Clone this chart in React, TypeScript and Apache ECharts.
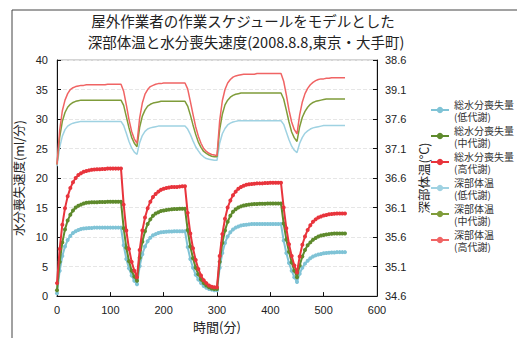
import React, { useEffect, useRef } from "react";
import * as echarts from "echarts";

const titleLines = [
  "屋外作業者の作業スケジュールをモデルとした",
  "深部体温と水分喪失速度(2008.8.8,東京・大手町)",
];

const times = [
  0, 5, 10, 15, 20, 25, 30, 35, 40, 45, 50, 55, 60, 65, 70, 75, 80, 85, 90, 95, 100, 105, 110, 115, 120,
  125, 130, 135, 140, 145, 150,
  155, 160, 165, 170, 175, 180, 185, 190, 195, 200, 205, 210, 215, 220, 225, 230, 235, 240,
  245, 250, 255, 260, 265, 270, 275, 280, 285, 290, 295, 300,
  305, 310, 315, 320, 325, 330, 335, 340, 345, 350, 355, 360, 365, 370, 375, 380, 385, 390, 395, 400, 405, 410, 415, 420,
  425, 430, 435, 440, 445, 450,
  455, 460, 465, 470, 475, 480, 485, 490, 495, 500, 505, 510, 515, 520, 525, 530, 535, 540,
];

// 総水分喪失量 (ml/分)
const lossLow = [
  0.5, 4.3, 6.8, 8.4, 9.5, 10.2, 10.7, 11.0, 11.2, 11.35, 11.45, 11.5, 11.55, 11.55, 11.6, 11.6, 11.6, 11.6, 11.6, 11.6, 11.6, 11.6, 11.6, 11.6, 11.6,
  8.6, 6.3, 4.7, 3.5, 2.6, 2.0,
  5.1, 7.1, 8.4, 9.3, 9.9, 10.3, 10.5, 10.7, 10.8, 10.85, 10.9, 10.95, 10.95, 11.0, 11.0, 11.0, 11.0, 11.0,
  8.3, 6.3, 4.8, 3.6, 2.8, 2.2, 1.7, 1.4, 1.2, 1.1, 1.0, 1.0,
  4.8, 7.3, 9.0, 10.1, 10.8, 11.3, 11.6, 11.8, 11.95, 12.05, 12.1, 12.15, 12.2, 12.2, 12.2, 12.2, 12.2, 12.2, 12.2, 12.2, 12.2, 12.2, 12.2, 12.2,
  9.4, 7.3, 5.6, 4.3, 3.2, 2.4,
  3.8, 4.8, 5.5, 6.0, 6.4, 6.7, 6.9, 7.05, 7.15, 7.25, 7.3, 7.35, 7.4, 7.4, 7.45, 7.45, 7.45, 7.45,
];
const lossMid = [
  1.0, 5.8, 9.1, 11.3, 12.8, 13.8, 14.5, 15.0, 15.3, 15.5, 15.7, 15.8, 15.85, 15.9, 15.9, 15.9, 15.95, 15.95, 15.95, 16.0, 16.0, 16.0, 16.0, 16.0, 16.0,
  11.5, 8.2, 5.9, 4.3, 3.3, 2.6,
  6.5, 9.2, 11.0, 12.2, 13.0, 13.6, 14.0, 14.2, 14.4, 14.5, 14.6, 14.65, 14.7, 14.75, 14.75, 14.8, 14.8, 14.8,
  11.2, 8.4, 6.4, 4.8, 3.7, 2.8, 2.2, 1.8, 1.5, 1.3, 1.2, 1.2,
  5.8, 9.0, 11.1, 12.6, 13.6, 14.3, 14.7, 15.0, 15.2, 15.35, 15.45, 15.5, 15.55, 15.6, 15.6, 15.65, 15.65, 15.65, 15.7, 15.7, 15.7, 15.7, 15.7, 15.7,
  12.3, 9.6, 7.5, 5.7, 4.3, 3.2,
  5.2, 6.7, 7.8, 8.6, 9.1, 9.55, 9.85, 10.1, 10.25, 10.35, 10.45, 10.5, 10.55, 10.6, 10.6, 10.6, 10.6, 10.6,
];
const lossHigh = [
  2.2, 8.0, 12.1, 14.9, 16.9, 18.3, 19.3, 20.0, 20.5, 20.8, 21.05, 21.2, 21.3, 21.4, 21.45, 21.5, 21.5, 21.55, 21.55, 21.6, 21.6, 21.6, 21.6, 21.6, 21.6,
  15.5, 11.1, 8.0, 5.8, 4.3, 3.2,
  7.8, 11.1, 13.3, 14.9, 16.0, 16.8, 17.3, 17.7, 18.0, 18.2, 18.3, 18.4, 18.5, 18.5, 18.5, 18.55, 18.6, 18.6,
  14.1, 10.6, 8.1, 6.1, 4.6, 3.5, 2.7, 2.2, 1.8, 1.6, 1.5, 1.5,
  6.8, 10.5, 13.1, 15.0, 16.2, 17.1, 17.7, 18.2, 18.5, 18.7, 18.85, 18.95, 19.0, 19.05, 19.1, 19.1, 19.1, 19.15, 19.15, 19.2, 19.2, 19.2, 19.2, 19.2,
  15.0, 11.5, 8.8, 6.8, 5.2, 4.0,
  6.7, 8.7, 10.1, 11.2, 12.0, 12.6, 13.0, 13.3, 13.5, 13.65, 13.75, 13.85, 13.9, 13.95, 14.0, 14.0, 14.0, 14.0,
];

// 深部体温 (°C)
const tempLow = [
  36.8, 37.12, 37.31, 37.42, 37.48, 37.51, 37.53, 37.54, 37.55, 37.56, 37.56, 37.56, 37.56, 37.56, 37.56, 37.56, 37.56, 37.56, 37.56, 37.56, 37.56, 37.56, 37.56, 37.56, 37.56,
  37.49, 37.36, 37.22, 37.11, 37.04, 37.0,
  37.2, 37.32, 37.39, 37.43, 37.45, 37.46, 37.47, 37.48, 37.48, 37.48, 37.48, 37.48, 37.48, 37.48, 37.48, 37.48, 37.48, 37.48,
  37.43, 37.34, 37.23, 37.13, 37.06, 37.0, 36.96, 36.93, 36.92, 36.91, 36.9, 36.9,
  37.19, 37.35, 37.44, 37.5, 37.53, 37.55, 37.56, 37.57, 37.57, 37.57, 37.57, 37.57, 37.57, 37.57, 37.57, 37.57, 37.57, 37.57, 37.57, 37.57, 37.57, 37.57, 37.57, 37.57,
  37.51, 37.38, 37.25, 37.14, 37.07, 37.03,
  37.19, 37.29, 37.36, 37.4, 37.43, 37.45, 37.46, 37.47, 37.48, 37.49, 37.49, 37.49, 37.49, 37.49, 37.49, 37.49, 37.49, 37.49,
];
const tempMid = [
  36.83, 37.29, 37.56, 37.71, 37.8, 37.85, 37.88, 37.9, 37.91, 37.92, 37.92, 37.92, 37.92, 37.92, 37.92, 37.92, 37.92, 37.92, 37.92, 37.92, 37.92, 37.92, 37.92, 37.92, 37.92,
  37.83, 37.64, 37.45, 37.29, 37.19, 37.13,
  37.46, 37.65, 37.75, 37.82, 37.85, 37.87, 37.88, 37.89, 37.9, 37.9, 37.9, 37.9, 37.9, 37.9, 37.9, 37.9, 37.9, 37.9,
  37.82, 37.67, 37.5, 37.34, 37.21, 37.12, 37.05, 37.02, 36.99, 36.97, 36.96, 36.96,
  37.42, 37.68, 37.84, 37.92, 37.97, 38.0, 38.02, 38.03, 38.04, 38.04, 38.04, 38.04, 38.04, 38.04, 38.04, 38.04, 38.04, 38.04, 38.04, 38.04, 38.04, 38.04, 38.04, 38.04,
  37.94, 37.75, 37.55, 37.38, 37.28, 37.22,
  37.47, 37.63, 37.73, 37.8, 37.85, 37.88, 37.9, 37.91, 37.92, 37.93, 37.94, 37.94, 37.94, 37.94, 37.94, 37.94, 37.94, 37.94,
];
const tempHigh = [
  36.83, 37.41, 37.74, 37.92, 38.03, 38.1, 38.13, 38.15, 38.16, 38.17, 38.17, 38.18, 38.18, 38.18, 38.18, 38.18, 38.18, 38.18, 38.18, 38.19, 38.19, 38.19, 38.19, 38.19, 38.19,
  38.07, 37.84, 37.59, 37.39, 37.26, 37.19,
  37.62, 37.87, 38.02, 38.1, 38.15, 38.17, 38.19, 38.2, 38.2, 38.21, 38.21, 38.21, 38.21, 38.21, 38.21, 38.21, 38.21, 38.21,
  38.11, 37.9, 37.68, 37.47, 37.31, 37.19, 37.1, 37.05, 37.02, 37.0, 36.99, 36.98,
  37.57, 37.91, 38.1, 38.21, 38.27, 38.31, 38.33, 38.34, 38.35, 38.36, 38.36, 38.36, 38.36, 38.36, 38.37, 38.37, 38.37, 38.37, 38.37, 38.37, 38.37, 38.37, 38.37, 38.37,
  38.24, 38.01, 37.75, 37.55, 37.42, 37.35,
  37.67, 37.89, 38.03, 38.12, 38.18, 38.22, 38.25, 38.27, 38.28, 38.28, 38.29, 38.29, 38.3, 38.3, 38.3, 38.3, 38.3, 38.3,
];

const seriesNames = [
  "総水分喪失量\n(低代謝)",
  "総水分喪失量\n(中代謝)",
  "総水分喪失量\n(高代謝)",
  "深部体温\n(低代謝)",
  "深部体温\n(中代謝)",
  "深部体温\n(高代謝)",
];

const rightTickValues = [34.6, 35.1, 35.6, 36.1, 36.6, 37.1, 37.6, 38.1, 38.6];
const rightTickLabels = ["34.6", "35.1", "35.6", "36.1", "36.6", "37.1", "37.6", "39.1", "38.6"];

const pairs = (vals: number[]) => vals.map((v, i) => [times[i], v]);

const CJK = "'Noto Sans CJK JP', sans-serif";
const NUM = "'Liberation Sans', Arial, sans-serif";

export default function App() {
  const ref = useRef<HTMLDivElement>(null);
  useEffect(() => {
    document.body.style.margin = "0";
    if (!ref.current) return;
    const chart = echarts.init(ref.current, undefined, { renderer: "svg" });
    const lossColors = ["#7fc3d6", "#5e8a2c", "#e8343c"];
    const tempColors = ["#9fd2e2", "#7f9c3a", "#f06464"];
    const lossData = [lossLow, lossMid, lossHigh];
    const tempData = [tempLow, tempMid, tempHigh];
    const series: any[] = [];
    lossData.forEach((d, i) => {
      series.push({
        name: seriesNames[i],
        type: "line",
        yAxisIndex: 0,
        data: pairs(d),
        symbol: "circle",
        symbolSize: 4,
        showSymbol: true,
        itemStyle: { color: lossColors[i] },
        lineStyle: { color: lossColors[i], width: 2 },
        z: 3 + i,
      });
    });
    tempData.forEach((d, i) => {
      series.push({
        name: seriesNames[3 + i],
        type: "line",
        yAxisIndex: 1,
        data: pairs(d),
        symbol: "none",
        showSymbol: false,
        itemStyle: { color: tempColors[i] },
        lineStyle: { color: tempColors[i], width: 1.5 },
        z: 2 + i,
      });
    });
    chart.setOption({
      animation: false,
      backgroundColor: "#ffffff",
      graphic: [
        { type: "line", shape: { x1: 12, y1: 10, x2: 517, y2: 10 }, style: { stroke: "#444", lineWidth: 1 } },
        { type: "line", shape: { x1: 12, y1: 10, x2: 12, y2: 338 }, style: { stroke: "#444", lineWidth: 1 } },
        {
          type: "text",
          x: 243,
          y: 20,
          style: { text: titleLines[0], fontSize: 14.5, fontFamily: CJK, fill: "#222", align: "center", verticalAlign: "middle" },
        },
        {
          type: "text",
          x: 246,
          y: 41,
          style: { text: titleLines[1], fontSize: 14.5, fontFamily: CJK, fill: "#222", align: "center", verticalAlign: "middle" },
        },
      ],
      grid: { left: 57, right: 140, top: 60, bottom: 41, show: true, borderColor: "#aaa", borderWidth: 1 },
      legend: {
        orient: "vertical",
        left: 430,
        top: 98,
        padding: 0,
        itemWidth: 18,
        itemHeight: 8,
        itemGap: 2,
        data: seriesNames,
        textStyle: {
          fontSize: 10,
          lineHeight: 12,
          color: "#333",
          fontFamily: CJK,
        },
      },
      xAxis: {
        type: "value",
        min: 0,
        max: 600,
        interval: 100,
        name: "時間(分)",
        nameLocation: "middle",
        nameGap: 23,
        nameTextStyle: { fontSize: 13, fontFamily: CJK, color: "#222" },
        axisLine: { show: true, lineStyle: { color: "#111", width: 1 } },
        axisTick: { show: true, inside: true, length: 4, lineStyle: { color: "#111" } },
        axisLabel: { fontSize: 11, color: "#222", fontFamily: NUM, margin: 8 },
        splitLine: { show: false },
      },
      yAxis: [
        {
          type: "value",
          min: 0,
          max: 40,
          interval: 5,
          name: "水分喪失速度(ml/分)",
          nameLocation: "middle",
          nameGap: 27,
          nameRotate: 90,
          nameTextStyle: { fontSize: 12.5, fontFamily: CJK, color: "#222" },
          axisLine: { show: true, lineStyle: { color: "#111", width: 1 } },
          axisTick: { show: true, inside: true, length: 4, lineStyle: { color: "#111" } },
          axisLabel: { fontSize: 11, color: "#222", fontFamily: NUM, margin: 9 },
          splitLine: { show: true, lineStyle: { color: "#e6e6e6", type: "dashed", width: 1 } },
        },
        {
          type: "value",
          position: "right",
          min: 34.6,
          max: 38.6,
          name: "深部体温(°C)",
          nameLocation: "middle",
          nameGap: 33,
          nameRotate: 90,
          nameTextStyle: { fontSize: 12.5, fontFamily: CJK, color: "#222" },
          axisLine: { show: true, lineStyle: { color: "#111", width: 1 } },
          axisTick: { show: true, inside: true, length: 4, lineStyle: { color: "#111" }, customValues: rightTickValues },
          axisLabel: {
            fontSize: 11,
            color: "#222",
            fontFamily: NUM,
            margin: 8,
            customValues: rightTickValues,
            formatter: (v: number) => {
              let best = 0;
              rightTickValues.forEach((t, i) => {
                if (Math.abs(t - v) < Math.abs(rightTickValues[best] - v)) best = i;
              });
              return rightTickLabels[best];
            },
          },
          splitLine: { show: false },
        },
      ],
      series,
    });
    return () => chart.dispose();
  }, []);
  return <div ref={ref} style={{ width: 517, height: 338 }} />;
}
